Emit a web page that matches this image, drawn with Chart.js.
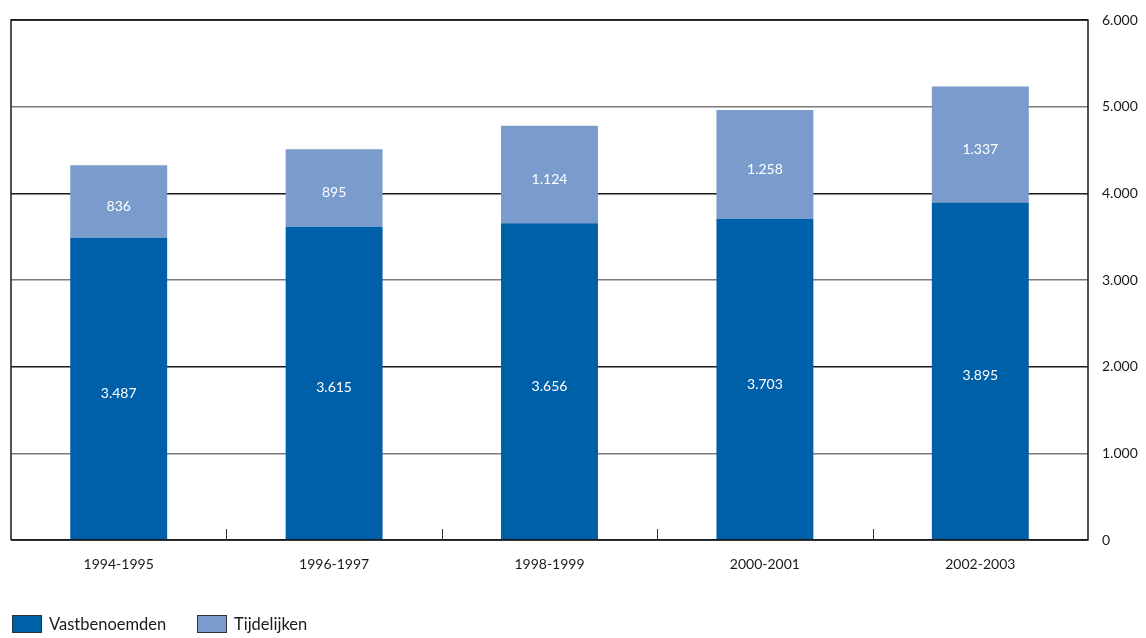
<!DOCTYPE html>
<html>
<head>
<meta charset="utf-8">
<script src="https://cdn.jsdelivr.net/npm/chart.js@4.4.1/dist/chart.umd.min.js"></script>
<style>
  html, body { margin: 0; padding: 0; background: #fff; }
  #wrap { width: 1146px; height: 638px; position: relative; }
  #c { position: absolute; left: 0; top: 0; }
  .legend { position: absolute; top: 614px; left: 0; height: 20px;
            font: 16.5px Lato, "Open Sans", sans-serif; color: #1a1a1a; }
  .item { position: absolute; top: 0; white-space: nowrap; }
  .sw { position: absolute; top: 1px; left: 0; width: 28px; height: 16px;
        border: 1.5px solid #333; }
  .txt { position: absolute; left: 37px; top: 0; line-height: 20px; }
</style>
</head>
<body>
<div id="wrap">
  <canvas id="c" width="1146" height="638"></canvas>
  <div class="legend" id="legend"></div>
</div>
<script>
const categories = ['1994-1995', '1996-1997', '1998-1999', '2000-2001', '2002-2003'];
const vastbenoemden = [3487, 3615, 3656, 3703, 3895];
const tijdelijken = [836, 895, 1124, 1258, 1337];
const seriesNames = ['Vastbenoemden', 'Tijdelijken'];
const yTicks = [0, 1000, 2000, 3000, 4000, 5000, 6000];

const DARK = '#005fa9';
const LIGHT = '#7a9ccc';
const FONT = 'Lato, "Open Sans", sans-serif';

// Dutch thousands separator
function fmt(v) {
  return String(v).replace(/\B(?=(\d{3})+(?!\d))/g, '.');
}

// White value labels centred in every bar segment
const segmentLabels = {
  id: 'segmentLabels',
  afterDatasetsDraw(chart) {
    const ctx = chart.ctx;
    ctx.save();
    ctx.fillStyle = '#ffffff';
    ctx.font = '14px ' + FONT;
    ctx.textAlign = 'center';
    ctx.textBaseline = 'middle';
    chart.data.datasets.forEach((ds, di) => {
      const meta = chart.getDatasetMeta(di);
      meta.data.forEach((bar, i) => {
        const p = bar.getProps(['x', 'y', 'base'], true);
        ctx.fillText(fmt(ds.data[i]), p.x, (p.y + p.base) / 2 + 5);
      });
    });
    ctx.restore();
  }
};

// Frame round the plot and short separators between categories
const frame = {
  id: 'frame',
  afterDraw(chart) {
    const { ctx, chartArea: a } = chart;
    const xs = chart.scales.x;
    ctx.save();
    ctx.strokeStyle = '#1a1a1a';
    ctx.lineWidth = 1.5;
    ctx.beginPath();
    ctx.moveTo(a.left, a.bottom);
    ctx.lineTo(a.left, a.top);
    ctx.lineTo(a.right, a.top);
    ctx.lineTo(a.right, a.bottom);
    ctx.lineTo(a.left, a.bottom);
    ctx.stroke();
    ctx.strokeStyle = '#333333';
    ctx.lineWidth = 1;
    for (let i = 1; i < categories.length; i++) {
      const x = Math.round((xs.getPixelForValue(i - 1) + xs.getPixelForValue(i)) / 2) + 0.5;
      ctx.beginPath();
      ctx.moveTo(x, a.bottom);
      ctx.lineTo(x, a.bottom - 11);
      ctx.stroke();
    }
    ctx.restore();
  }
};

const chart = new Chart(document.getElementById('c'), {
  type: 'bar',
  data: {
    labels: categories,
    datasets: [
      { label: seriesNames[0], data: vastbenoemden, backgroundColor: DARK, borderWidth: 0 },
      { label: seriesNames[1], data: tijdelijken, backgroundColor: LIGHT, borderWidth: 0 }
    ]
  },
  options: {
    responsive: false,
    animation: false,
    layout: { padding: { left: 11, right: 0, top: 20, bottom: 0 } },
    datasets: { bar: { categoryPercentage: 1, barPercentage: 0.45 } },
    scales: {
      x: {
        stacked: true,
        afterFit(scale) { scale.height = 98; },
        grid: { display: false, drawTicks: false },
        border: { display: false },
        ticks: { color: '#1a1a1a', font: { family: FONT, size: 14 }, padding: 16 }
      },
      y: {
        stacked: true,
        position: 'right',
        min: 0, max: 6000,
        afterBuildTicks(scale) { scale.ticks = yTicks.map(v => ({ value: v })); },
        afterFit(scale) { scale.width = 58; scale.paddingTop = 0; },
        grid: {
          drawTicks: false,
          lineWidth: 1.5,
          color: c => (c.tick && (c.tick.value / 1000) % 2 === 1) ? '#7a7a7a' : '#1a1a1a'
        },
        border: { display: false },
        ticks: {
          color: '#1a1a1a', font: { family: FONT, size: 14 }, padding: 14,
          callback: v => fmt(v)
        }
      }
    },
    plugins: {
      legend: { display: false },
      tooltip: { enabled: false }
    }
  },
  plugins: [segmentLabels, frame]
});

// Legend built from the chart's datasets
const legendPos = [12, 197];
const legend = document.getElementById('legend');
chart.data.datasets.forEach((ds, i) => {
  const item = document.createElement('div');
  item.className = 'item';
  item.style.left = legendPos[i] + 'px';
  const sw = document.createElement('span');
  sw.className = 'sw';
  sw.style.background = ds.backgroundColor;
  const t = document.createElement('span');
  t.className = 'txt';
  t.textContent = ds.label;
  item.appendChild(sw);
  item.appendChild(t);
  legend.appendChild(item);
});
</script>
</body>
</html>
